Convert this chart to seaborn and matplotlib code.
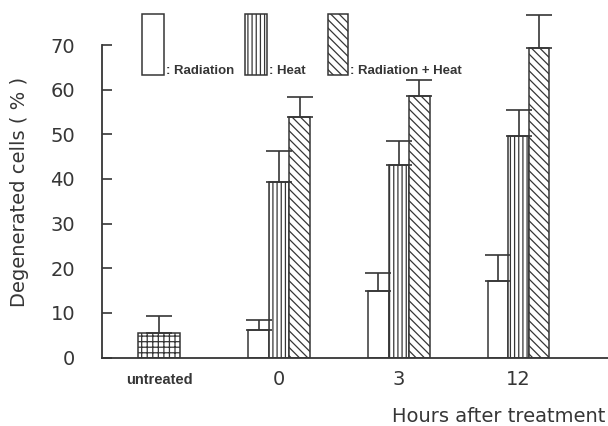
import numpy as np
import pandas as pd
import seaborn as sns
import matplotlib
matplotlib.use("Agg")
import matplotlib.pyplot as plt
from matplotlib.patches import Rectangle

# ---------------- data ----------------
categories = ["untreated", "0", "3", "12"]
time_points = ["0", "3", "12"]
treatments = ["Radiation", "Heat", "Radiation + Heat"]
untreated_value = [5.4]
untreated_err = [3.9]
radiation = [6.1, 15.0, 17.1]
radiation_err = [2.4, 4.0, 5.8]
heat = [39.4, 43.2, 49.6]
heat_err = [6.8, 5.4, 5.9]
rad_heat = [53.8, 58.5, 69.3]
rad_heat_err = [4.5, 3.7, 7.5]
y_ticks = [0, 10, 20, 30, 40, 50, 60, 70]
y_label = "Degenerated cells ( % )"
x_label = "Hours after treatment"

# ---------------- style ----------------
ink = "#363636"
sns.set_theme(style="white")
plt.rcParams["font.family"] = ["DejaVu Sans"]
plt.rcParams["hatch.linewidth"] = 0.9
plt.rcParams["hatch.color"] = ink
plt.rcParams["text.color"] = ink

W, H = 608, 426
fig = plt.figure(figsize=(W / 100, H / 100), dpi=100)
ax_l, ax_b, ax_t = 101.5, 357.5, 45.0
ax = fig.add_axes([ax_l / W, (H - ax_b) / H, 1 - ax_l / W, (ax_b - ax_t) / H])

df = pd.DataFrame({
    "time": time_points * 3,
    "treatment": np.repeat(treatments, len(time_points)),
    "value": radiation + heat + rad_heat,
})
sns.barplot(data=df, x="time", y="value", hue="treatment", order=categories,
            hue_order=treatments, palette=["white"] * 3, saturation=1,
            width=0.513, errorbar=None, edgecolor=ink, linewidth=1.1,
            legend=False, ax=ax)

df_u = pd.DataFrame({"time": ["untreated"], "value": untreated_value})
sns.barplot(data=df_u, x="time", y="value", order=categories, color="white",
            saturation=1, width=0.35, errorbar=None, edgecolor=ink,
            linewidth=1.1, ax=ax)

hatches = ["", "||||", "\\\\\\\\", "+++"]
errs = [radiation_err, heat_err, rad_heat_err, untreated_err]
for cont, hatch, err in zip(ax.containers, hatches, errs):
    xs, ys = [], []
    for bar in cont:
        bar.set_hatch(hatch)
        xs.append(bar.get_x() + bar.get_width() / 2)
        ys.append(bar.get_height())
    eb = ax.errorbar(xs, ys, yerr=[np.zeros(len(err)), err], fmt="none",
                     ecolor=ink, elinewidth=1.2, capsize=9.5, capthick=1.2,
                     zorder=3)
    for art in list(eb.lines[1]) + list(eb.lines[2]):
        art.set_clip_on(False)

ax.set_xlim(-0.482, 3.745)
ax.set_ylim(0, 70)
ax.set_yticks(y_ticks)
ax.set_yticklabels([str(t) for t in y_ticks])

sns.despine(ax=ax, top=True, right=True)
for s in ["left", "bottom"]:
    ax.spines[s].set_color(ink)
    ax.spines[s].set_linewidth(1.3)

ax.tick_params(axis="y", direction="in", length=7.5, width=1.2, color=ink,
               pad=19, labelsize=14, labelcolor=ink, left=True)
ax.tick_params(axis="x", length=0, pad=16, labelsize=14, labelcolor=ink)
for lbl in ax.get_xticklabels():
    lbl.set_va("center")
    if lbl.get_text() == "untreated":
        lbl.set_fontsize(10.5)
        lbl.set_fontweight("bold")
        lbl.set_family(["Liberation Sans"])

ax.set_xlabel(x_label, fontsize=14, color=ink)
ax.xaxis.set_label_coords((605 - ax_l) / (W - ax_l), -(416.7 - ax_b) / (ax_b - ax_t))
ax.xaxis.label.set_ha("right")
ax.xaxis.label.set_va("center")

ax.set_ylabel(y_label, fontsize=14, color=ink)
ax.yaxis.set_label_coords(-(ax_l - 20) / (W - ax_l), (ax_b - 191.5) / (ax_b - ax_t))
ax.yaxis.label.set_va("center")

# ---------------- custom key (top) ----------------
key_boxes = [(141.7, 164.3), (245.0, 266.7), (327.7, 348.3)]
key_top, key_bot = 14.0, 75.0
for (x0, x1), hatch, name in zip(key_boxes, hatches[:3], treatments):
    r = Rectangle((x0 / W, 1 - key_bot / H), (x1 - x0) / W, (key_bot - key_top) / H,
                  transform=fig.transFigure, facecolor="white", edgecolor=ink,
                  linewidth=1.1, hatch=hatch)
    fig.add_artist(r)
    fig.text((x1 + 2) / W, 1 - 74.0 / H, ": " + name, fontsize=9.5,
             fontweight="bold", family=["Liberation Sans"], color=ink,
             ha="left", va="baseline")

fig.savefig("out.png", dpi=100)
